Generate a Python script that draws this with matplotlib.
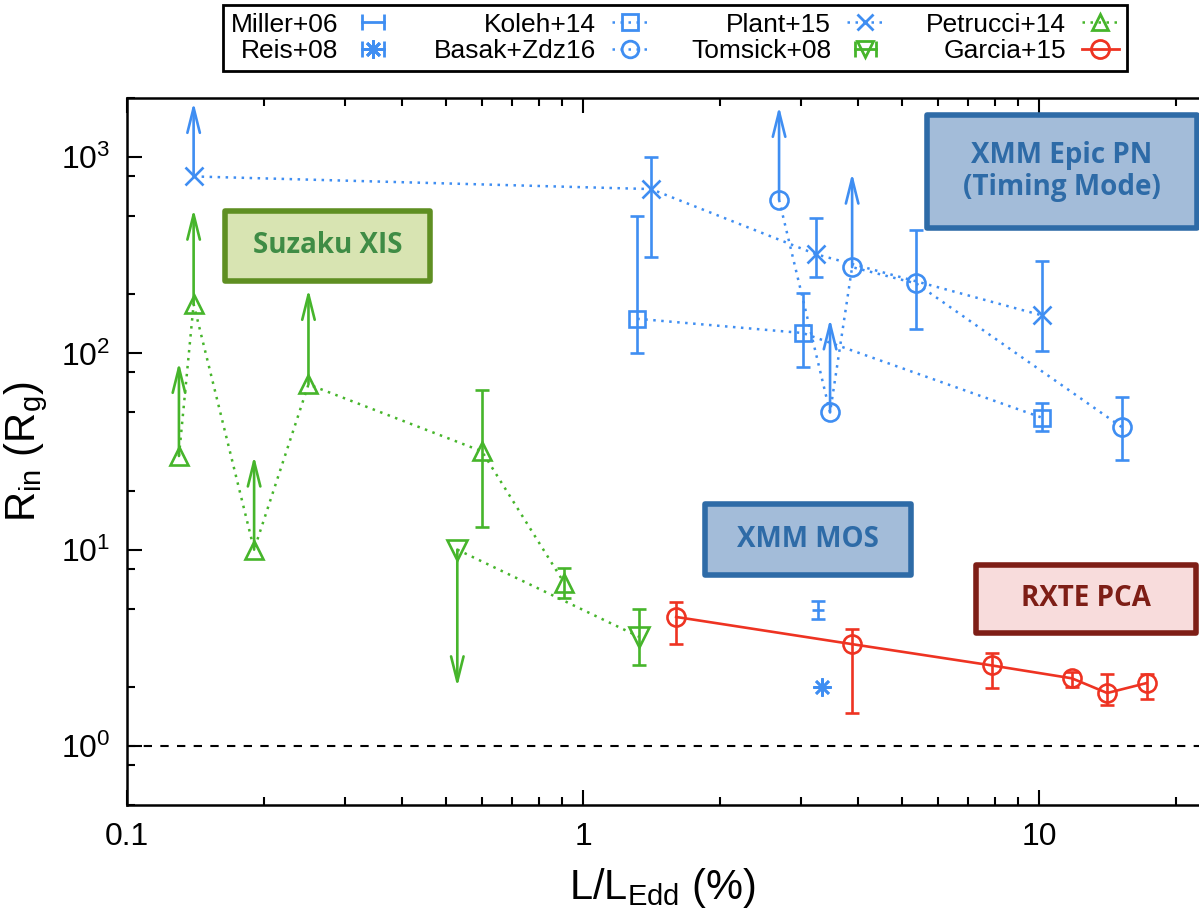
import numpy as np
import matplotlib
matplotlib.use('Agg')
import matplotlib.pyplot as plt
from matplotlib.lines import Line2D
from matplotlib.patches import Rectangle
from matplotlib.legend_handler import HandlerLine2D, HandlerTuple
from matplotlib.ticker import LogLocator, NullFormatter

plt.rcParams['font.family'] = ['Liberation Sans', 'DejaVu Sans']
plt.rcParams['mathtext.default'] = 'regular'

nan = np.nan

# ---- data (L/LEdd in %, Rin in Rg) ----
miller_x = [3.27]
miller_y = [4.94]
miller_lo = [4.45]
miller_hi = [5.45]

reis_x = [3.34]
reis_y = [2.0]

koleh_x = [1.315, 3.03, 10.15]
koleh_y = [150, 127, 47]
koleh_lo = [100, 85.5, 40]
koleh_hi = [502, 202, 56]

basak_x = [2.69, 3.48, 3.89, 5.38, 15.2]
basak_y = [606, 50, 275, 227, 42]
basak_lo = [nan, nan, nan, 133, 28.5]
basak_hi = [nan, nan, nan, 424, 60]
basak_tip = [1814, 150, 829, nan, nan]   # lower limits (arrow up)

plant_x = [0.140, 1.41, 3.24, 10.16]
plant_y = [797, 687, 320, 156]
plant_lo = [nan, 308, 245, 103]
plant_hi = [nan, 996, 488, 296]
plant_tip = [1900, nan, nan, nan]

pet_x = [0.130, 0.140, 0.190, 0.250, 0.600, 0.908]
pet_y = [30, 178, 10, 69.5, 31.7, 6.8]
pet_lo = [nan, nan, nan, nan, 13, 5.7]
pet_hi = [nan, nan, nan, nan, 65, 8.1]
pet_tip = [90, 543, 30, 212, nan, nan]

tom_x = [0.53, 1.326]
tom_y = [10, 3.6]
tom_lo = [nan, 2.59]
tom_hi = [nan, 4.98]
tom_tip = [2.0, nan]   # upper limit (arrow down)

gar_x = [1.60, 3.89, 7.88, 11.8, 14.1, 17.2]
gar_y = [4.54, 3.30, 2.57, 2.21, 1.86, 2.09]
gar_lo = [3.31, 1.47, 1.97, 1.99, 1.61, 1.73]
gar_hi = [5.38, 3.94, 2.97, 2.39, 2.33, 2.33]

blue = '#3f8ef2'
green = '#46b52b'
red = '#ee3322'

fig = plt.figure(figsize=(11.99, 9.22), dpi=100)
ax = fig.add_axes([0.1059, 0.1269, 0.894, 0.7668])

dot = (0, (1, 2.2))
lw = 1.9


def yerr(y, lo, hi):
    y = np.array(y, float)
    return [y - np.array(lo, float), np.array(hi, float) - y]


def series(x, y, lo, hi, color, marker, ms, ls=dot, line_lw=1.8):
    if ls is not None:
        ax.plot(x, y, ls=ls, color=color, lw=line_lw, zorder=2)
    if lo is not None:
        ax.errorbar(x, y, yerr=yerr(y, lo, hi), fmt='none', ecolor=color,
                    elinewidth=lw, capsize=5, capthick=lw, zorder=3)
    ax.plot(x, y, ls='none', marker=marker, ms=ms, mfc='none', mec=color,
            mew=lw, zorder=4)


def arrows(x, y, tip, color):
    for xi, yi, ti in zip(x, y, tip):
        if np.isnan(ti):
            continue
        ax.annotate('', xy=(xi, ti), xytext=(xi, yi),
                    arrowprops=dict(arrowstyle='->,head_length=1.8,head_width=0.45',
                                    color=color, lw=lw, shrinkA=0, shrinkB=0),
                    zorder=3)


series(koleh_x, koleh_y, koleh_lo, koleh_hi, blue, 's', 12)
series(basak_x, basak_y, basak_lo, basak_hi, blue, 'o', 13)
arrows(basak_x, basak_y, basak_tip, blue)
series(plant_x, plant_y, plant_lo, plant_hi, blue, 'x', 13)
arrows(plant_x, plant_y, plant_tip, blue)
series(miller_x, miller_y, miller_lo, miller_hi, blue, '_', 9, ls=None)
series(reis_x, reis_y, None, None, blue, (8, 2, 0), 13, ls=None)

series(pet_x, pet_y, pet_lo, pet_hi, green, '^', 13)
arrows(pet_x, pet_y, pet_tip, green)
series(tom_x, tom_y, tom_lo, tom_hi, green, 'v', 14)
arrows(tom_x, tom_y, tom_tip, green)

series(gar_x, gar_y, gar_lo, gar_hi, red, 'o', 13, ls='-', line_lw=1.9)

ax.axhline(1, color='black', ls=(0, (4, 4)), lw=1.5, zorder=1)

ax.set_xscale('log')
ax.set_yscale('log')
ax.set_xlim(0.1, 22.4)
ax.set_ylim(0.5, 2000)
ax.set_xticks([0.1, 1, 10], ['0.1', '1', '10'])
ax.xaxis.set_minor_locator(LogLocator(base=10, subs=np.arange(2, 10)))
ax.xaxis.set_minor_formatter(NullFormatter())
ax.set_yticks([1, 10, 100, 1000])
ax.yaxis.set_minor_locator(LogLocator(base=10, subs=[2, 5, 8]))
ax.yaxis.set_minor_formatter(NullFormatter())
ax.tick_params(which='both', direction='in', top=True, right=False,
               width=1.5, labelsize=23, pad=12)
ax.tick_params(which='major', length=11)
ax.tick_params(which='minor', length=6)
for s in ['left', 'bottom', 'top']:
    ax.spines[s].set_linewidth(1.8)
ax.spines['right'].set_visible(False)

ax.set_xlabel('L/L$_{Edd}$ (%)', fontsize=30, labelpad=10)
ax.set_ylabel('R$_{in}$ (R$_{g}$)', fontsize=30, labelpad=8)

# instrument boxes
boxes = [
    ('Suzaku XIS', (0.0914, 0.7412, 0.1912, 0.099), '#d8e4b2', '#5f8f22', '#3f8c45'),
    ('XMM Epic PN\n(Timing Mode)', (0.7463, 0.816, 0.2519, 0.160), '#a3bcd9', '#2e6ba7', '#2e6ba7'),
    ('XMM MOS', (0.5392, 0.3253, 0.1922, 0.1004), '#a3bcd9', '#2e6ba7', '#2e6ba7'),
    ('RXTE PCA', (0.792, 0.2433, 0.2052, 0.0962), '#f8dcdc', '#7e1e16', '#7e1e16'),
]
for text, (x0, y0, w, h), fc, ec, tc in boxes:
    ax.add_patch(Rectangle((x0, y0), w, h, transform=ax.transAxes, fc=fc, ec=ec,
                           lw=4, joinstyle='round', zorder=5, clip_on=False))
    ax.text(x0 + w / 2, y0 + h / 2, text, transform=ax.transAxes, ha='center',
            va='center', fontsize=20, fontweight='bold', color=tc,
            family=['Open Sans', 'DejaVu Sans'], linespacing=1.15, zorder=6)

# legend
bar_b = Line2D([], [], color=blue, lw=2, marker='|', ms=11, mew=2)
bar_b2 = Line2D([], [], color=blue, lw=2, marker='|', ms=11, mew=2)
bar_g = Line2D([], [], color=green, lw=2, marker='|', ms=11, mew=2)
h_miller = bar_b
h_reis = (bar_b2, Line2D([], [], ls='none', color=blue, marker=(8, 2, 0), ms=13, mew=2))
h_koleh = Line2D([], [], color=blue, ls=dot, lw=1.8, marker='s', ms=12, mfc='none', mew=2)
h_basak = Line2D([], [], color=blue, ls=dot, lw=1.8, marker='o', ms=12, mfc='none', mew=2)
h_plant = Line2D([], [], color=blue, ls=dot, lw=1.8, marker='x', ms=12, mew=2)
h_tom = (bar_g, Line2D([], [], ls='none', color=green, marker='v', ms=12, mfc='none', mew=2))
h_pet = Line2D([], [], color=green, ls=dot, lw=1.8, marker='^', ms=12, mfc='none', mew=2)
h_gar = Line2D([], [], color=red, ls='-', lw=2, marker='o', ms=13, mfc='none', mew=2)

handles = [h_miller, h_reis, h_koleh, h_basak, h_plant, h_tom, h_pet, h_gar]
labels = ['Miller+06', 'Reis+08', 'Koleh+14', 'Basak+Zdz16',
          'Plant+15', 'Tomsick+08', 'Petrucci+14', 'Garcia+15']
hm = {bar_b: HandlerLine2D(numpoints=2), bar_b2: HandlerLine2D(numpoints=2),
      bar_g: HandlerLine2D(numpoints=2), tuple: HandlerTuple(ndivide=1)}
leg = fig.legend(handles, labels, ncol=4, loc='upper center',
                 bbox_to_anchor=(0.563, 0.995), borderaxespad=0,
                 markerfirst=False, fontsize=19,
                 handlelength=1.4, handletextpad=0.6, columnspacing=1.6,
                 labelspacing=0.1, borderpad=0.3, fancybox=False,
                 edgecolor='black', framealpha=1, handler_map=hm)
leg.get_frame().set_linewidth(2)

fig.savefig('out.png', dpi=100)
